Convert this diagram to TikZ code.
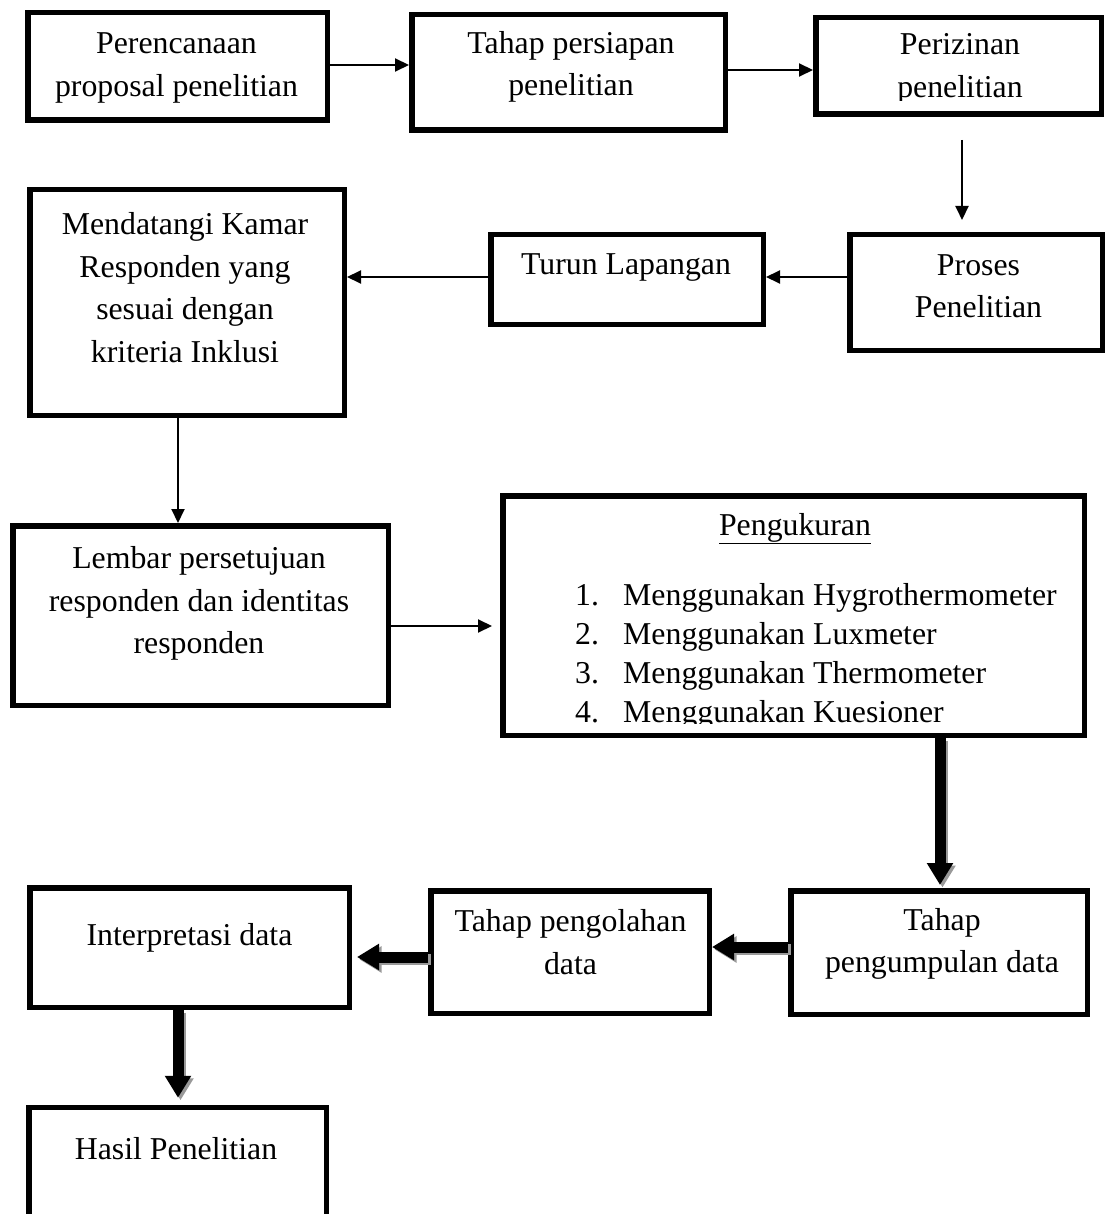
\documentclass[tikz,border=0pt]{standalone}
\usepackage{fontspec}
\setmainfont{Liberation Serif}
\usetikzlibrary{arrows.meta}
\begin{document}
\begin{tikzpicture}[x=1pt,y=1pt,
  box/.style={draw, line width=5.5pt, inner sep=0pt, fill=none},
  txt/.style={font=\fontsize{31.8}{42.5}\selectfont, align=center, inner sep=0pt},
  thin arrow/.style={line width=2pt, -{Triangle[length=14pt,width=13pt]}},
  thick arrow/.style={line width=11pt, -{Triangle[length=22pt,width=25pt]}},
  shadow arrow/.style={thick arrow, draw=black!40, transform canvas={xshift=2.5pt,yshift=-2.5pt}}
]
\useasboundingbox (0,0) rectangle (1106,-1214);

% boxes
\node[box, minimum width=299.5pt, minimum height=107.5pt] (b1) at (177.5,-66.5) {};
\node[box, minimum width=313.5pt, minimum height=115.5pt] (b2) at (568.5,-72.5) {};
\node[box, minimum width=285.5pt, minimum height=96.5pt] (b3) at (958.5,-66) {};
\node[box, minimum width=252.5pt, minimum height=115.5pt] (b4) at (976,-292.5) {};
\node[box, minimum width=272.5pt, minimum height=89.5pt] (b5) at (627,-279.5) {};
\node[box, minimum width=314.5pt, minimum height=225.5pt] (b6) at (187,-302.5) {};
\node[box, minimum width=375.5pt, minimum height=179.5pt] (b7) at (200.5,-615.5) {};
\node[box, minimum width=581.5pt, minimum height=239.5pt] (b8) at (793.5,-615.5) {};
\node[box, minimum width=296.5pt, minimum height=123.5pt] (b9) at (939,-952.5) {};
\node[box, minimum width=278.5pt, minimum height=122.5pt] (b10) at (570,-952) {};
\node[box, minimum width=319.5pt, minimum height=119.5pt] (b11) at (189.5,-947.5) {};
\node[box, minimum width=297.5pt, minimum height=120pt] (b12) at (177.5,-1167.5) {};

% texts
\node[txt] (t1) at (176.5,-68) {Perencanaan\\proposal penelitian};
\node[txt] (t2) at (571,-67) {Tahap persiapan\\penelitian};
\begin{scope}
\clip (820,-20) rectangle (1098,-101);
\node[txt] (t3) at (960,-69) {Perizinan\\penelitian};
\end{scope}
\node[txt] (t4) at (978.5,-286) {Proses\\Penelitian};
\node[txt, anchor=base] (t5) at (626,-275) {Turun Lapangan};
\node[txt] (t6) at (185,-287.5) {Mendatangi Kamar\\Responden yang\\sesuai dengan\\kriteria Inklusi};
\node[txt] (t7) at (199,-603.5) {Lembar persetujuan\\responden dan identitas\\responden};
\node[txt, anchor=base] (t8) at (795,-535) {\underline{Pengukuran}};
\node[txt, anchor=base west] (n1) at (575,-605) {1.};
\node[txt, anchor=base west] (i1) at (623,-605) {Menggunakan Hygrothermometer};
\node[txt, anchor=base west] (n2) at (575,-644) {2.};
\node[txt, anchor=base west] (i2) at (623,-644) {Menggunakan Luxmeter};
\node[txt, anchor=base west] (n3) at (575,-683) {3.};
\node[txt, anchor=base west] (i3) at (623,-683) {Menggunakan Thermometer};
\begin{scope}
\clip (505,-690) rectangle (1080,-723.5);
\node[txt, anchor=base west] (n4) at (575,-722) {4.};
\node[txt, anchor=base west] (i4) at (623,-722) {Menggunakan Kuesioner};
\end{scope}
\node[txt] (t9) at (942,-944) {Tahap\\pengumpulan data};
\node[txt] (t10) at (570.5,-942) {Tahap pengolahan\\data};
\node[txt, anchor=base] (t11) at (189.5,-945) {Interpretasi data};
\node[txt, anchor=base] (t12) at (176,-1159) {Hasil Penelitian};

% thin connectors
\draw[thin arrow] (b1.east |- 0,-65) -- (b2.west |- 0,-65);
\draw[thin arrow] (b2.east |- 0,-70) -- (b3.west |- 0,-70);
\draw[thin arrow, shorten <=23pt, shorten >=12pt] (b3.south -| 962,0) -- (b4.north -| 962,0);
\draw[thin arrow] (b4.west |- 0,-277) -- (b5.east |- 0,-277);
\draw[thin arrow] (b5.west |- 0,-277) -- (b6.east |- 0,-277);
\draw[thin arrow] (b6.south -| 178,0) -- (b7.north -| 178,0);
\draw[thin arrow, shorten >=8pt] (b7.east |- 0,-626) -- (b8.west |- 0,-626);

% thick connectors with shadow
\draw[shadow arrow, shorten >=3pt] (b8.south -| 940,0) -- (b9.north -| 940,0);
\draw[thick arrow, shorten >=3pt] (b8.south -| 940,0) -- (b9.north -| 940,0);
\draw[shadow arrow] (b9.west |- 0,-947) -- (b10.east |- 0,-947);
\draw[thick arrow] (b9.west |- 0,-947) -- (b10.east |- 0,-947);
\draw[shadow arrow, shorten >=5pt] (b10.west |- 0,-957) -- (b11.east |- 0,-957);
\draw[thick arrow, shorten >=5pt] (b10.west |- 0,-957) -- (b11.east |- 0,-957);
\draw[shadow arrow, shorten >=7pt] (b11.south -| 178,0) -- (b12.north -| 178,0);
\draw[thick arrow, shorten >=7pt] (b11.south -| 178,0) -- (b12.north -| 178,0);
\end{tikzpicture}
\end{document}
